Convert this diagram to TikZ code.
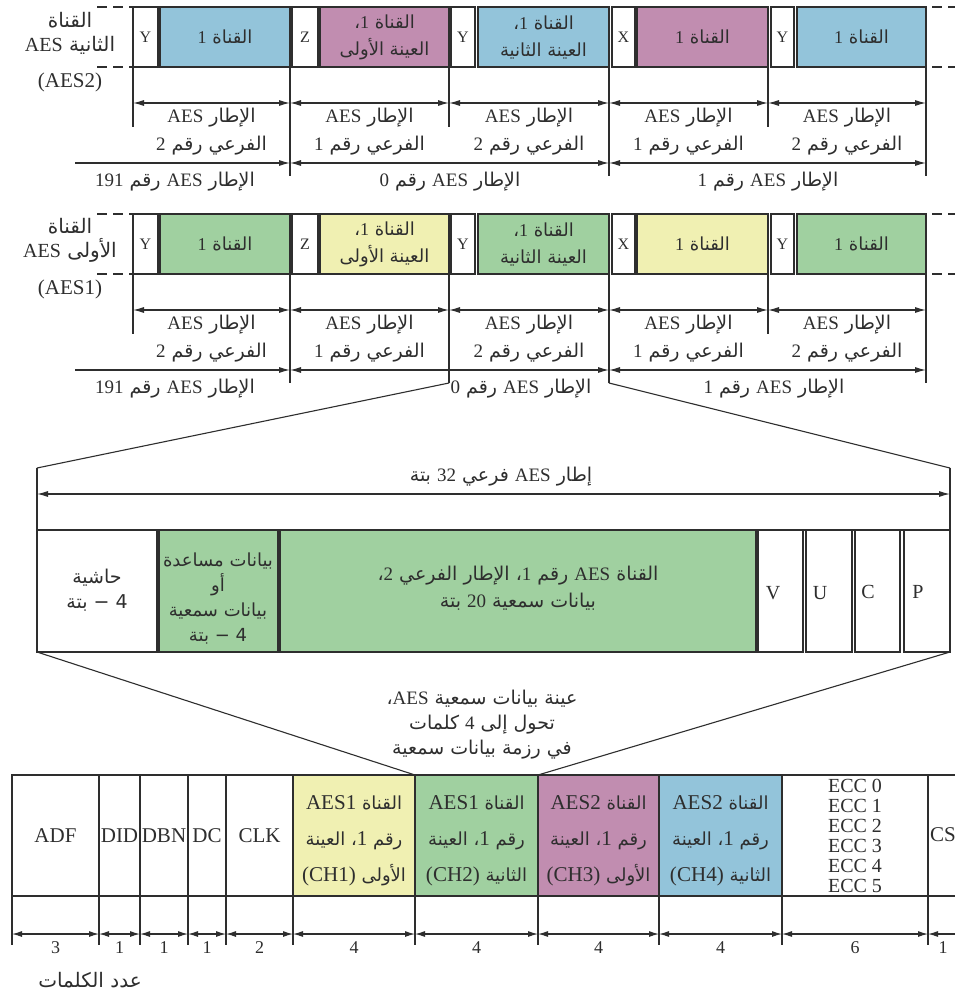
\documentclass[tikz,border=0pt]{standalone}
\usepackage{fontspec}
\setmainfont{Liberation Serif}
\newfontfamily\arfont[Script=Arabic]{DejaVu Sans}
\newfontfamily\latbig[Scale=1.17]{Liberation Serif}
\TeXXeTstate=1
\usetikzlibrary{arrows.meta}
\definecolor{cblue}{HTML}{93C4DA}
\definecolor{cpurple}{HTML}{C18DB0}
\definecolor{cgreen}{HTML}{A0D0A0}
\definecolor{cyellow}{HTML}{F0F0B2}
\definecolor{ink}{HTML}{2E2E2E}
\newcommand\ARt[1]{{\arfont\beginR #1\endR}}
\newcommand\LAt[1]{{\rmfamily #1}}
\newcommand\LAb[1]{{\latbig #1}}
\newcommand\fsz[2]{\fontsize{#1}{#2}\selectfont}
\newcommand\mycell[7]{\node[cellbox,#2,minimum width={(#4-#3)*1pt},minimum height={(#6-#5)*1pt}] (#1) at ({(#3+#4)/2},{(#5+#6)/2}) {#7};}
\newcommand\aesrow[8]{%
  \coordinate (#1dl1) at (97,7);  \coordinate (#1dl1e) at (133,7);
  \coordinate (#1dl2) at (97,67); \coordinate (#1dl2e) at (133,67);
  \coordinate (#1dr1) at (932,7); \coordinate (#1dr1e) at (956,7);
  \coordinate (#1dr2) at (932,67);\coordinate (#1dr2e) at (956,67);
  \draw[dsh] (#1dl1) -- (#1dl1e); \draw[dsh] (#1dl2) -- (#1dl2e);
  \draw[dsh] (#1dr1) -- (#1dr1e); \draw[dsh] (#1dr2) -- (#1dr2e);
  \mycell{#1y1}{fill=white}{133}{158}{7}{67}{Y}
  \mycell{#1a1}{fill=#2,colbox,font=\fsz{18}{27}}{160}{290}{7}{67}{\ARt{القناة \LAt{1}}}
  \mycell{#1z}{fill=white}{292}{318}{7}{67}{Z}
  \mycell{#1b1}{fill=#3,colbox,font=\fsz{18}{27}}{320}{449}{7}{67}{\ARt{القناة \LAt{1}،}\\\ARt{العينة الأولى}}
  \mycell{#1y2}{fill=white}{451}{475}{7}{67}{Y}
  \mycell{#1a2}{fill=#2,colbox,font=\fsz{18}{27}}{478}{609}{7}{67}{\ARt{القناة \LAt{1}،}\\\ARt{العينة الثانية}}
  \mycell{#1x}{fill=white}{612}{635}{7}{67}{X}
  \mycell{#1b2}{fill=#3,colbox,font=\fsz{18}{27}}{637}{768}{7}{67}{\ARt{القناة \LAt{1}}}
  \mycell{#1y3}{fill=white}{771}{794}{7}{67}{Y}
  \mycell{#1a3}{fill=#2,colbox,font=\fsz{18}{27}}{797}{926}{7}{67}{\ARt{القناة \LAt{1}}}
  \coordinate (#1v0) at (133,127); \draw[ln] (#1y1.south west) -- (#1v0);
  \coordinate (#1v1) at (290,176); \draw[ln] (#1a1.south east) -- (#1v1);
  \coordinate (#1v2) at (449,#8);  \draw[ln] (#1b1.south east) -- (#1v2);
  \coordinate (#1v3) at (609,176); \draw[ln] (#1a2.south east) -- (#1v3);
  \coordinate (#1v4) at (768,127); \draw[ln] (#1b2.south east) -- (#1v4);
  \coordinate (#1v5) at (926,176); \draw[ln] (#1a3.south east) -- (#1v5);
  \coordinate (#1p0) at (133,103); \coordinate (#1p1) at (290,103);
  \coordinate (#1p2) at (449,103); \coordinate (#1p3) at (609,103);
  \coordinate (#1p4) at (768,103); \coordinate (#1p5) at (926,103);
  \draw[dim] (#1p0) -- (#1p1); \draw[dim] (#1p1) -- (#1p2); \draw[dim] (#1p2) -- (#1p3);
  \draw[dim] (#1p3) -- (#1p4); \draw[dim] (#1p4) -- (#1p5);
  \node[txt,font=\fsz{19}{28}] (#1s1) at (211.5,132) {\ARt{الإطار \LAt{AES}}\\\ARt{الفرعي رقم \LAt{2}}};
  \node[txt,font=\fsz{19}{28}] (#1s2) at (369.5,132) {\ARt{الإطار \LAt{AES}}\\\ARt{الفرعي رقم \LAt{1}}};
  \node[txt,font=\fsz{19}{28}] (#1s3) at (529,132) {\ARt{الإطار \LAt{AES}}\\\ARt{الفرعي رقم \LAt{2}}};
  \node[txt,font=\fsz{19}{28}] (#1s4) at (688.5,132) {\ARt{الإطار \LAt{AES}}\\\ARt{الفرعي رقم \LAt{1}}};
  \node[txt,font=\fsz{19}{28}] (#1s5) at (847,132) {\ARt{الإطار \LAt{AES}}\\\ARt{الفرعي رقم \LAt{2}}};
  \coordinate (#1f0) at (75,163); \coordinate (#1f1) at (290,163);
  \coordinate (#1f2) at (609,163); \coordinate (#1f3) at (926,163);
  \draw[dimr] (#1f0) -- (#1f1); \draw[dim] (#1f1) -- (#1f2); \draw[dim] (#1f2) -- (#1f3);
  \node[txt,font=\fsz{19}{20}] (#1fl0) at (175,182) {\ARt{الإطار \LAt{AES} رقم \LAt{191}}};
  \node[txt,font=\fsz{19}{20}] (#1fl1) at (#6,182) {\ARt{الإطار \LAt{AES} رقم \LAt{0}}};
  \node[txt,font=\fsz{19}{20}] (#1fl2) at (#7,182) {\ARt{الإطار \LAt{AES} رقم \LAt{1}}};
  \node[txt,font=\fsz{20}{24}] (#1cl) at (70,33) {\ARt{القناة}\\\ARt{#4 \LAt{AES}}};
  \node[txt,font=\fsz{21}{21}] (#1cn) at (70,82) {(#5)};
}
\begin{document}
\begin{tikzpicture}[x=1pt,y=-1pt,
  ln/.style={draw=ink,line width=1.1pt},
  cellbox/.style={draw=ink,line width=1.1pt,inner sep=0pt,outer sep=0pt,align=center,text=ink,font=\fsz{16}{18}},
  colbox/.style={line width=1.5pt},
  dim/.style={draw=ink,line width=1.1pt,{Latex[length=11pt,width=6pt]}-{Latex[length=11pt,width=6pt]}},
  dimr/.style={draw=ink,line width=1.1pt,-{Latex[length=11pt,width=6pt]}},
  dsh/.style={draw=ink,line width=1.1pt,dash pattern=on 10pt off 6pt},
  txt/.style={inner sep=0pt,align=center,text=ink},
]
\useasboundingbox (0,0) rectangle (954,993);
\fill[white] (0,0) rectangle (954,993);

% ---- AES2 row ----
\aesrow{a}{cblue}{cpurple}{الثانية}{AES2}{450}{768}{127}
% ---- AES1 row ----
\begin{scope}[shift={(0,207)}]
\aesrow{b}{cgreen}{cyellow}{الأولى}{AES1}{521}{774}{176}
\end{scope}

% ---- expanded sub-frame ----
\coordinate (zl) at (37,468);
\coordinate (zr) at (950,468);
\draw[ln] (bv2) -- (zl);
\draw[ln] (bv3) -- (zr);
\mycell{pad}{fill=white}{37}{157}{530}{652}{}
\mycell{aux}{fill=cgreen,colbox}{159}{278}{530}{652}{}
\mycell{main}{fill=cgreen,colbox}{280}{756}{530}{652}{}
\mycell{vb}{fill=white}{758}{803}{530}{652}{}
\mycell{ub}{fill=white}{806}{852}{530}{652}{}
\mycell{cb}{fill=white}{855}{900}{530}{652}{}
\mycell{pb}{fill=white}{904}{950}{530}{652}{}
\node[txt,font=\fsz{19}{25}] (padt) at (97,590) {\ARt{حاشية}\\\ARt{4 − بتة}};
\node[txt,font=\fsz{18}{25}] (auxt) at (218,598) {\ARt{بيانات مساعدة}\\\ARt{أو}\\\ARt{بيانات سمعية}\\\ARt{4 − بتة}};
\node[txt,font=\fsz{19}{27}] (maint) at (518,588) {\ARt{القناة \LAt{AES} رقم \LAt{1}، الإطار الفرعي \LAt{2}،}\\\ARt{بيانات سمعية \LAt{20} بتة}};
\node[txt,font=\fsz{20}{20}] (vl) at (773,593) {V};
\node[txt,font=\fsz{20}{20}] (ul) at (820,593) {U};
\node[txt,font=\fsz{20}{20}] (cl) at (868,592) {C};
\node[txt,font=\fsz{20}{20}] (pl) at (918,592) {P};
\draw[ln] (zl) -- (pad.north west);
\draw[ln] (zr) -- (pb.north east);
\draw[ln] (pad.north west) -- (pb.north east);
\coordinate (za0) at (37,494);
\coordinate (za1) at (950,494);
\draw[dim] (za0) -- (za1);
\node[txt,font=\fsz{19}{20}] (zt) at (501,477) {\ARt{إطار \LAt{AES} فرعي \LAt{32} بتة}};

% ---- packet ----
\mycell{t1}{fill=white,font=\fsz{21}{21}}{12}{99}{775}{896}{ADF}
\mycell{t2}{fill=white,font=\fsz{21}{21}}{99}{140}{775}{896}{DID}
\mycell{t3}{fill=white,font=\fsz{21}{21}}{140}{188}{775}{896}{DBN}
\mycell{t4}{fill=white,font=\fsz{21}{21}}{188}{226}{775}{896}{DC}
\mycell{t5}{fill=white,font=\fsz{21}{21}}{226}{293}{775}{896}{CLK}
\mycell{t6}{fill=cyellow}{293}{415}{775}{896}{}
\mycell{t7}{fill=cgreen}{415}{538}{775}{896}{}
\mycell{t8}{fill=cpurple}{538}{659}{775}{896}{}
\mycell{t9}{fill=cblue}{659}{782}{775}{896}{}
\mycell{t10}{fill=white,font=\fsz{20}{20}}{782}{928}{775}{896}{ECC 0\\ECC 1\\ECC 2\\ECC 3\\ECC 4\\ECC 5}
\mycell{t11}{fill=white}{928}{980}{775}{896}{}
\node[txt,anchor=west,font=\fsz{21}{21}] (csl) at (930,835) {CS};
\node[txt,font=\fsz{18}{36}] (t6t) at (354,841) {\ARt{القناة \LAb{AES1}}\\\ARt{رقم \LAb{1}، العينة}\\\ARt{الأولى \LAb{\beginL(CH1)\endL}}};
\node[txt,font=\fsz{18}{36}] (t7t) at (476.5,841) {\ARt{القناة \LAb{AES1}}\\\ARt{رقم \LAb{1}، العينة}\\\ARt{الثانية \LAb{\beginL(CH2)\endL}}};
\node[txt,font=\fsz{18}{36}] (t8t) at (598.5,841) {\ARt{القناة \LAb{AES2}}\\\ARt{رقم \LAb{1}، العينة}\\\ARt{الأولى \LAb{\beginL(CH3)\endL}}};
\node[txt,font=\fsz{18}{36}] (t9t) at (720.5,841) {\ARt{القناة \LAb{AES2}}\\\ARt{رقم \LAb{1}، العينة}\\\ARt{الثانية \LAb{\beginL(CH4)\endL}}};

\draw[ln] (pad.south west) -- (t7.north west);
\draw[ln] (pb.south east) -- (t8.north west);

\node[txt,font=\fsz{19}{25}] (note) at (482,725) {\ARt{عينة بيانات سمعية \LAt{AES}،}\\\ARt{تحول إلى \LAt{4} كلمات}\\\ARt{في رزمة بيانات سمعية}};

% extension lines and word-count arrows
\foreach \n/\x in {0/12,1/99,2/140,3/188,4/226,5/293,6/415,7/538,8/659,9/782,10/928}{
  \coordinate (k\n) at (\x,945);
  \coordinate (m\n) at (\x,934);
  \coordinate (u\n) at (\x,896);
}
\coordinate (m11) at (972,934);
\foreach \n in {0,...,10}{ \draw[ln] (u\n) -- (k\n); }
\foreach \a/\b in {0/1,1/2,2/3,3/4,4/5,5/6,6/7,7/8,8/9,9/10,10/11}{
  \draw[draw=ink,line width=1.1pt,{Latex[length=10pt,width=6pt]}-{Latex[length=10pt,width=6pt]}] (m\a) -- (m\b);
}
\node[txt,font=\fsz{18}{18}] (n1) at (55.5,948) {3};
\node[txt,font=\fsz{18}{18}] (n2) at (119.5,948) {1};
\node[txt,font=\fsz{18}{18}] (n3) at (164,948) {1};
\node[txt,font=\fsz{18}{18}] (n4) at (207,948) {1};
\node[txt,font=\fsz{18}{18}] (n5) at (259.5,948) {2};
\node[txt,font=\fsz{18}{18}] (n6) at (354,948) {4};
\node[txt,font=\fsz{18}{18}] (n7) at (476.5,948) {4};
\node[txt,font=\fsz{18}{18}] (n8) at (598.5,948) {4};
\node[txt,font=\fsz{18}{18}] (n9) at (720.5,948) {4};
\node[txt,font=\fsz{18}{18}] (n10) at (855,948) {6};
\node[txt,font=\fsz{18}{18}] (n11) at (943,948) {1};
\node[txt,font=\fsz{20}{20}] (cnt) at (90,980) {\ARt{عدد الكلمات}};
\end{tikzpicture}
\end{document}
